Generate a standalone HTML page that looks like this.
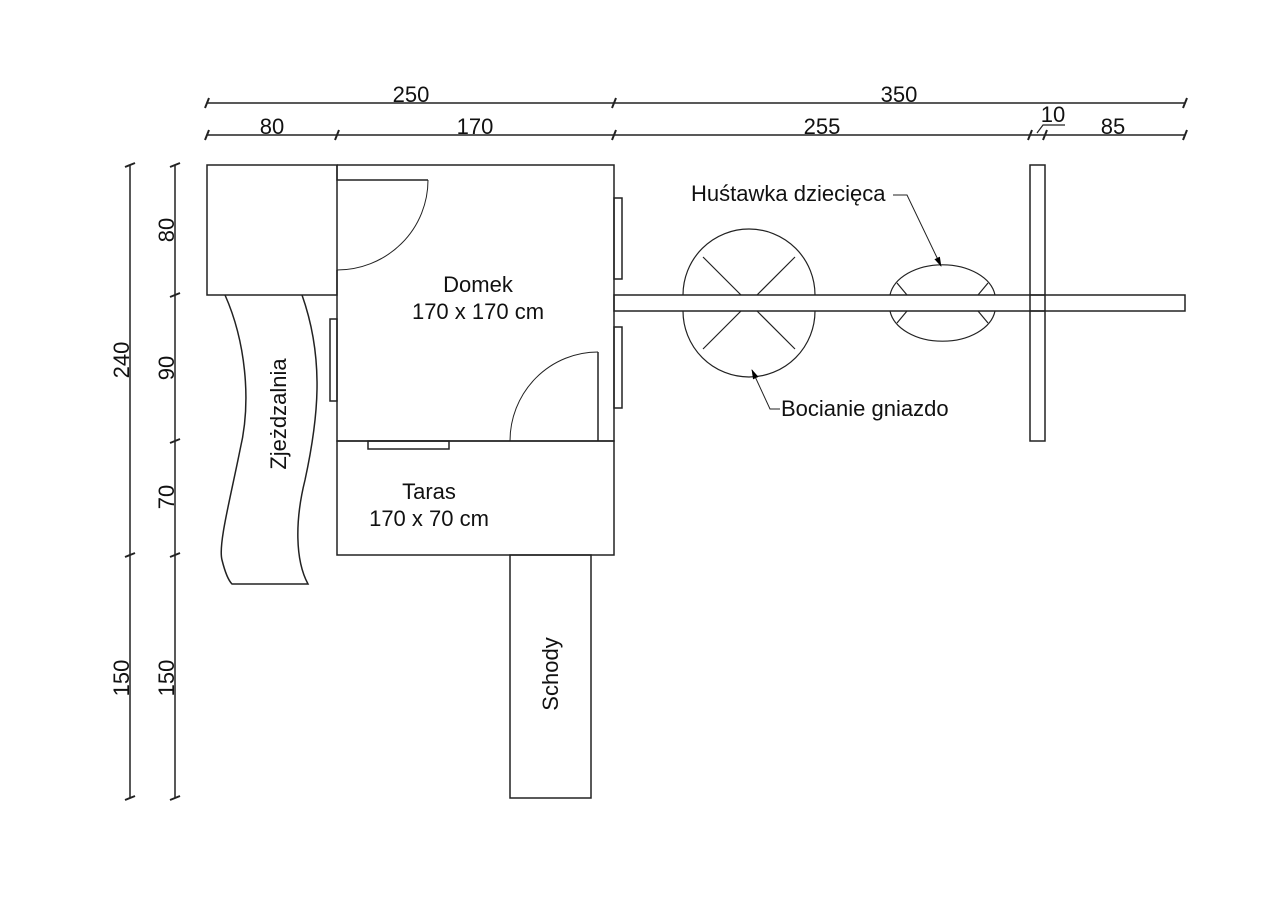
<!DOCTYPE html>
<html><head><meta charset="utf-8"><style>body{margin:0;background:#fff}svg{display:block}text{font-family:"Liberation Sans",sans-serif;font-size:22px;fill:#111}</style></head>
<body>
<svg width="1280" height="904" viewBox="0 0 1280 904" xmlns="http://www.w3.org/2000/svg">
<defs><marker id="ar" markerWidth="10" markerHeight="8" refX="9" refY="4" orient="auto" markerUnits="userSpaceOnUse"><path d="M0,1 L10,4 L0,7 Z" fill="#000"/></marker></defs>
<g stroke="#222" stroke-width="1.5" fill="none">
<line x1="207" y1="103" x2="1185" y2="103"/>
<line x1="207" y1="135" x2="1185" y2="135"/>
<g stroke-width="2">
<path d="M205,108 L209,98 M612,108 L616,98 M1183,108 L1187,98"/>
<path d="M205,140 L209,130 M335,140 L339,130 M612,140 L616,130 M1028,140 L1032,130 M1043,140 L1047,130 M1183,140 L1187,130"/>
</g>
<path d="M1037,133 L1043,125 L1065,125" stroke-width="1.2"/>
<line x1="130" y1="165" x2="130" y2="798"/>
<line x1="175" y1="165" x2="175" y2="798"/>
<g stroke-width="2">
<path d="M125,167 L135,163 M125,557 L135,553 M125,800 L135,796"/>
<path d="M170,167 L180,163 M170,297 L180,293 M170,443 L180,439 M170,557 L180,553 M170,800 L180,796"/>
</g>
<rect x="207" y="165" width="130" height="130"/>
<path d="M337,165 L614,165 L614,441 L337,441 L337,270"/>
<path d="M337,165 L337,180 L428,180"/>
<path d="M428,180 A91,90 0 0 1 337,270" stroke-width="1"/>
<rect x="330" y="319" width="7" height="82"/>
<rect x="614" y="198" width="8" height="81"/>
<rect x="614" y="327" width="8" height="81"/>
<line x1="598" y1="352" x2="598" y2="441"/>
<path d="M598,352 A88,89 0 0 0 510,441" stroke-width="1"/>
<rect x="337" y="441" width="277" height="114"/>
<rect x="368" y="441" width="81" height="8"/>
<rect x="510" y="555" width="81" height="243"/>
<path d="M225,295 C245,340 252,400 240,450 C230,500 218,545 222,560 C225,572 228,580 232,584 L308,584 C295,560 295,520 305,480 C318,420 325,360 302,295"/>
<rect x="614" y="295" width="571" height="16"/>
<rect x="1030" y="165" width="15" height="276"/>
<line x1="1030" y1="295" x2="1045" y2="295"/><line x1="1030" y1="311" x2="1045" y2="311"/>
<path d="M683,295 A66,66 0 0 1 815,295 M683,311 A66,66 0 0 0 815,311" stroke-width="1.2"/>
<path d="M703,257 L741,295 M795,257 L757,295 M703,349 L741,311 M795,349 L757,311" stroke-width="1.2"/>
<path d="M890,295 A53,35 0 0 1 995,295 M890,311 A53,35 0 0 0 995,311" stroke-width="1.2"/>
<path d="M897,283 L907,295 M988,283 L978,295 M897,323 L907,311 M988,323 L978,311" stroke-width="1.2"/>
<path d="M893,195 L907,195 L941,266" stroke-width="1" marker-end="url(#ar)"/>
<path d="M780,409 L770,409 L752,370" stroke-width="1" marker-end="url(#ar)"/>
</g>
<text x="411" y="102" text-anchor="middle">250</text>
<text x="899" y="102" text-anchor="middle">350</text>
<text x="272" y="134" text-anchor="middle">80</text>
<text x="475" y="134" text-anchor="middle">170</text>
<text x="822" y="134" text-anchor="middle">255</text>
<text x="1053" y="122" text-anchor="middle">10</text>
<text x="1113" y="134" text-anchor="middle">85</text>
<text transform="translate(129,360) rotate(-90)" text-anchor="middle">240</text>
<text transform="translate(129,678) rotate(-90)" text-anchor="middle">150</text>
<text transform="translate(174,230) rotate(-90)" text-anchor="middle">80</text>
<text transform="translate(174,368) rotate(-90)" text-anchor="middle">90</text>
<text transform="translate(174,497) rotate(-90)" text-anchor="middle">70</text>
<text transform="translate(174,678) rotate(-90)" text-anchor="middle">150</text>
<text x="478" y="292" text-anchor="middle">Domek</text>
<text x="478" y="319" text-anchor="middle">170 x 170 cm</text>
<text x="429" y="499" text-anchor="middle">Taras</text>
<text x="429" y="526" text-anchor="middle">170 x 70 cm</text>
<text transform="translate(558,674) rotate(-90)" text-anchor="middle">Schody</text>
<text transform="translate(286,414) rotate(-90)" text-anchor="middle">Zjeżdzalnia</text>
<text x="691" y="201">Huśtawka dziecięca</text>
<text x="781" y="416">Bocianie gniazdo</text>
</svg>
</body></html>
